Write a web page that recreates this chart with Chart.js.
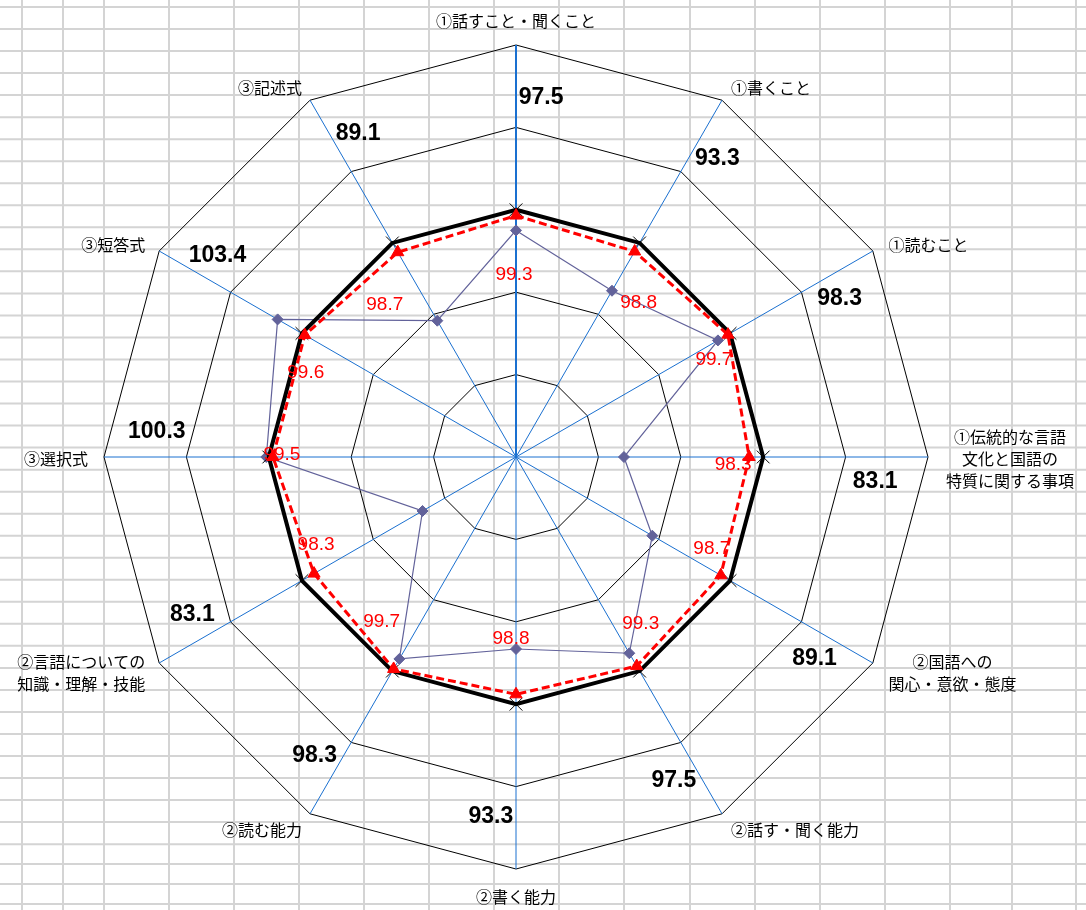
<!DOCTYPE html>
<html lang="ja">
<head>
<meta charset="utf-8">
<title>国語 レーダーチャート</title>
<script src="https://cdn.jsdelivr.net/npm/chart.js@4.4.1/dist/chart.umd.min.js"></script>
<style>
  html, body { margin: 0; padding: 0; background: #fff; }
  #radar { display: block; }
</style>
</head>
<body>
<canvas id="radar" width="1086" height="910"></canvas>
<script>
// categories, clockwise from the top (multi-line labels as arrays)
const categories = [
  ['①話すこと・聞くこと'],
  ['①書くこと'],
  ['①読むこと'],
  ['①伝統的な言語', '文化と国語の', '特質に関する事項'],
  ['②国語への', '関心・意欲・態度'],
  ['②話す・聞く能力'],
  ['②書く能力'],
  ['②読む能力'],
  ['②言語についての', '知識・理解・技能'],
  ['③選択式'],
  ['③短答式'],
  ['③記述式']
];
const schoolValues = [97.5, 93.3, 98.3, 83.1, 89.1, 97.5, 93.3, 98.3, 83.1, 100.3, 103.4, 89.1];
const ratioValues = [99.3, 98.8, 99.7, 98.3, 98.7, 99.3, 98.8, 99.7, 98.3, 99.5, 99.6, 98.7];
const baseValues = [100, 100, 100, 100, 100, 100, 100, 100, 100, 100, 100, 100];
const scaleMin = 70;
const scaleMax = 120;
const scaleStep = 10;

// spreadsheet cell lines behind the chart
const sheetCols = [22, 63, 104, 169, 234, 299, 364, 429, 494, 559, 624, 690, 755, 820, 885, 950, 1012, 1076];
const sheetRows = [];
for (let k = 0; k <= 38; k++) sheetRows.push(7 + k * 22.03);
sheetRows.push(864, 884, 904);

// nudges for the red value labels (px, relative to each red point)
const redLabelNudge = [[-2, 59], [4, 51], [-14, 25], [-16, 8], [-9, -26], [4, -42],
                       [-5, -56], [-12, -47], [2, -29], [9, -2], [1, 38], [-13, 53]];

const sheetBackground = {
  id: 'sheetBackground',
  beforeDraw(chart) {
    const ctx = chart.ctx;
    ctx.save();
    ctx.fillStyle = '#ffffff';
    ctx.fillRect(0, 0, chart.width, chart.height);
    ctx.strokeStyle = '#d4d4d4';
    ctx.lineWidth = 2;
    ctx.beginPath();
    sheetCols.forEach(x => { ctx.moveTo(x, 0); ctx.lineTo(x, chart.height); });
    sheetRows.forEach(y => { ctx.moveTo(0, y); ctx.lineTo(chart.width, y); });
    ctx.stroke();
    ctx.restore();
  }
};

const radarText = {
  id: 'radarText',
  afterDatasetsDraw(chart) {
    const ctx = chart.ctx;
    const r = chart.scales.r;
    ctx.save();
    ctx.textAlign = 'center';
    ctx.textBaseline = 'middle';

    // category names outside the outer ring
    ctx.fillStyle = '#000';
    ctx.font = '16px "Noto Sans CJK JP", sans-serif';
    categories.forEach((lines, i) => {
      const v = r.getPointPosition(i, r.drawingArea);
      const a = r.getIndexAngle(i);
      const s = Math.sin(a), c = Math.cos(a);
      const w = Math.max(...lines.map(t => ctx.measureText(t).width));
      const lh = 22;
      let cx;
      if (Math.abs(s) < 0.01) cx = v.x;
      else if (s > 0) cx = v.x + 18 * s + w / 2;
      else cx = v.x + 16 * s - w / 2;
      const cy = v.y - c * (Math.abs(s) < 0.01 ? 26 : 16) + 2;
      lines.forEach((t, k) => ctx.fillText(t, cx, cy + (k - (lines.length - 1) / 2) * lh));
    });

    // bold values of the diamond series, between the two outer rings
    ctx.font = 'bold 23px "Liberation Sans", Arial, sans-serif';
    schoolValues.forEach((val, i) => {
      const p = r.getPointPosition(i, r.drawingArea * 0.874, 4 * Math.PI / 180);
      ctx.fillText(val.toFixed(1), p.x, p.y);
    });

    // red values
    ctx.fillStyle = '#ff0000';
    ctx.font = '19px "Liberation Sans", Arial, sans-serif';
    const meta = chart.getDatasetMeta(0);
    meta.data.forEach((pt, i) => {
      const n = redLabelNudge[i];
      ctx.fillText(ratioValues[i].toFixed(1), pt.x + n[0], pt.y + n[1]);
    });
    ctx.restore();
  }
};

const ctx = document.getElementById('radar').getContext('2d');
const radarChart = new Chart(ctx, {
  type: 'radar',
  data: {
    labels: categories,
    datasets: [{
      label: '比率',
      data: ratioValues,
      borderColor: '#ff0000',
      borderWidth: 3,
      borderDash: [8, 4],
      fill: false,
      tension: 0,
      pointStyle: 'triangle',
      pointRadius: 7,
      pointBackgroundColor: '#ff0000',
      pointBorderColor: '#ff0000',
      pointBorderWidth: 1
    }, {
      label: '基準',
      data: baseValues,
      borderColor: '#000000',
      borderWidth: 4,
      fill: false,
      tension: 0,
      pointStyle: 'crossRot',
      pointRadius: 9,
      pointBorderColor: '#000000',
      pointBorderWidth: 1
    }, {
      label: '本校',
      data: schoolValues,
      borderColor: '#62629a',
      borderWidth: 1.2,
      fill: false,
      tension: 0,
      pointStyle: 'rectRot',
      pointRadius: 5.5,
      pointBackgroundColor: '#62629a',
      pointBorderColor: '#62629a',
      pointBorderWidth: 1
    }]
  },
  options: {
    responsive: false,
    animation: false,
    events: [],
    layout: { padding: { left: 104, right: 158, top: 45, bottom: 41 } },
    plugins: {
      legend: { display: false },
      tooltip: { enabled: false }
    },
    scales: {
      r: {
        min: scaleMin,
        max: scaleMax,
        beginAtZero: false,
        ticks: { stepSize: scaleStep, display: false },
        pointLabels: { display: false },
        grid: { color: '#000000', lineWidth: 1 },
        angleLines: {
          color: '#1a70d0',
          lineWidth: c => (c.index === 0 ? 2 : 1)
        }
      }
    }
  },
  plugins: [sheetBackground, radarText]
});
</script>
</body>
</html>
